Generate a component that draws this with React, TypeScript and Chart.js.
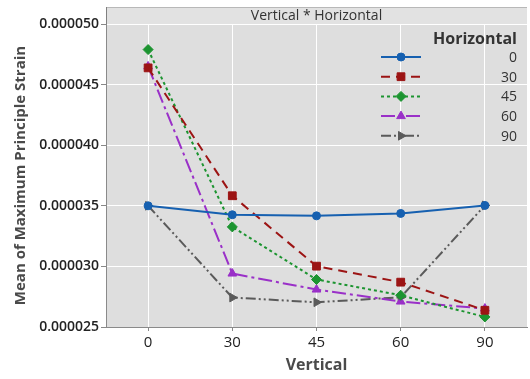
import React, { useEffect, useRef } from "react";
import { Chart, registerables } from "chart.js";
import { drawPoint } from "chart.js/helpers";

Chart.register(...registerables);

const verticalLabels = ["0", "30", "45", "60", "90"];
const horizontalLabels = ["0", "30", "45", "60", "90"];
const h0 = [35.0e-6, 34.26e-6, 34.17e-6, 34.37e-6, 35.03e-6];
const h30 = [46.38e-6, 35.83e-6, 30.02e-6, 28.7e-6, 26.38e-6];
const h45 = [47.89e-6, 33.26e-6, 28.92e-6, 27.62e-6, 25.83e-6];
const h60 = [46.5e-6, 29.41e-6, 28.09e-6, 27.1e-6, 26.52e-6];
const h90 = [35.0e-6, 27.43e-6, 27.04e-6, 27.45e-6, 35.03e-6];
const yTicks = [25e-6, 30e-6, 35e-6, 40e-6, 45e-6, 50e-6];

const FONT = "'Open Sans', 'Noto Sans', sans-serif";

const styles = [
  { color: "#1660b0", dash: [], point: "circle", radius: 4, rotation: 0 },
  { color: "#9c1414", dash: [9, 6], point: "rect", radius: 5.5, rotation: 0 },
  { color: "#1c9430", dash: [3, 3], point: "rectRot", radius: 5, rotation: 0 },
  { color: "#9a30c8", dash: [14, 4, 3, 4], point: "triangle", radius: 5, rotation: 0 },
  { color: "#5a5a5a", dash: [10, 3, 2, 3, 2, 3], point: "triangle", radius: 5, rotation: 90 },
];

const seriesValues = [h0, h30, h45, h60, h90];

const panelPlugin = {
  id: "panel",
  beforeDraw(chart: any) {
    const { ctx, chartArea } = chart;
    const { left, right, top, bottom } = chartArea;
    ctx.save();
    ctx.fillStyle = "#dedede";
    ctx.fillRect(left, top, right - left, bottom - top);
    ctx.fillStyle = "#e2e2e2";
    ctx.fillRect(left, 7, right - left, top - 7);
    ctx.strokeStyle = "#b8b8b8";
    ctx.lineWidth = 1;
    ctx.beginPath();
    ctx.moveTo(left, 7.5);
    ctx.lineTo(right, 7.5);
    ctx.stroke();
    ctx.strokeStyle = "#808080";
    ctx.beginPath();
    ctx.moveTo(left, top + 0.5);
    ctx.lineTo(right, top + 0.5);
    ctx.moveTo(left + 0.5, 7);
    ctx.lineTo(left + 0.5, top);
    ctx.stroke();
    ctx.fillStyle = "#333";
    ctx.font = `14px ${FONT}`;
    ctx.textAlign = "center";
    ctx.textBaseline = "middle";
    ctx.fillText("Vertical * Horizontal", (left + right) / 2, 16);
    ctx.restore();
  },
};

const legendPlugin = {
  id: "customLegend",
  afterDraw(chart: any) {
    const { ctx } = chart;
    ctx.save();
    ctx.fillStyle = "#333";
    ctx.font = `bold 16px ${FONT}`;
    ctx.textAlign = "right";
    ctx.textBaseline = "middle";
    ctx.fillText("Horizontal", 517, 39);
    chart.data.datasets.forEach((ds: any, i: number) => {
      const y = 57 + i * 19.7;
      ctx.strokeStyle = ds.borderColor;
      ctx.lineWidth = 2;
      ctx.setLineDash(ds.borderDash || []);
      ctx.beginPath();
      ctx.moveTo(381, y);
      ctx.lineTo(421, y);
      ctx.stroke();
      ctx.setLineDash([]);
      ctx.fillStyle = ds.pointBackgroundColor;
      ctx.strokeStyle = ds.pointBorderColor;
      ctx.lineWidth = 1;
      drawPoint(ctx, { pointStyle: ds.pointStyle, radius: ds.pointRadius, rotation: ds.pointRotation || 0, borderWidth: 1 }, 401, y);
      ctx.fillStyle = "#333";
      ctx.font = `14px ${FONT}`;
      ctx.textAlign = "right";
      ctx.fillText(ds.label, 517, y + 1);
    });
    ctx.restore();
  },
};

export default function App() {
  const ref = useRef<HTMLCanvasElement>(null);
  useEffect(() => {
    if (!ref.current) return;
    const chart = new Chart(ref.current, {
      type: "line",
      data: {
        labels: verticalLabels,
        datasets: seriesValues.map((vals, i) => ({
          label: horizontalLabels[i],
          data: vals,
          borderColor: styles[i].color,
          backgroundColor: styles[i].color,
          pointBackgroundColor: styles[i].color,
          pointBorderColor: styles[i].color,
          borderWidth: 2,
          borderDash: styles[i].dash,
          pointStyle: styles[i].point as any,
          pointRadius: styles[i].radius,
          pointRotation: styles[i].rotation,
          pointBorderWidth: 1,
          tension: 0,
          fill: false,
          clip: false as any,
        })),
      },
      options: {
        animation: false,
        responsive: false,
        maintainAspectRatio: false,
        layout: { autoPadding: false, padding: { top: 24, left: 0, right: 3, bottom: 0 } },
        plugins: { legend: { display: false }, tooltip: { enabled: false } },
        scales: {
          x: {
            type: "category",
            offset: true,
            grid: { color: "#ffffff", lineWidth: 1, offset: false, drawTicks: true, tickLength: 4, tickColor: "#888" },
            border: { color: "#8a8a8a", width: 1 },
            ticks: { color: "#222", font: { family: FONT, size: 15 }, padding: 3 },
            title: { display: true, text: "Vertical", color: "#4a4a4a", font: { family: FONT, size: 16, weight: "bold" }, padding: { top: 0 } },
            afterFit: (s: any) => { s.height = 52; s.paddingLeft = 0; s.paddingRight = 0; },
          },
          y: {
            min: 25e-6,
            max: 50e-6,
            afterBuildTicks: (s: any) => { s.ticks = yTicks.map((v) => ({ value: v })); },
            grid: { color: "#ffffff", lineWidth: 1, drawTicks: true, tickLength: 5, tickColor: "#888" },
            border: { color: "#8a8a8a", width: 1 },
            ticks: { color: "#222", font: { family: FONT, size: 14, weight: "600" }, padding: 2, callback: (v: any) => Number(v).toFixed(6) },
            title: { display: true, text: "Mean of Maximum Principle Strain", color: "#4a4a4a", font: { family: FONT, size: 15, weight: "bold" }, padding: { top: 12, bottom: 0 } },
            afterFit: (s: any) => { s.width = 106; s.paddingTop = 0; s.paddingBottom = 0; },
          },
        },
      },
      plugins: [panelPlugin, legendPlugin],
    });
    return () => chart.destroy();
  }, []);
  return (
    <div style={{ position: "absolute", left: 0, top: 0, width: 530, height: 379, background: "#fff" }}>
      <canvas ref={ref} width={530} height={379} style={{ width: 530, height: 379 }} />
    </div>
  );
}
